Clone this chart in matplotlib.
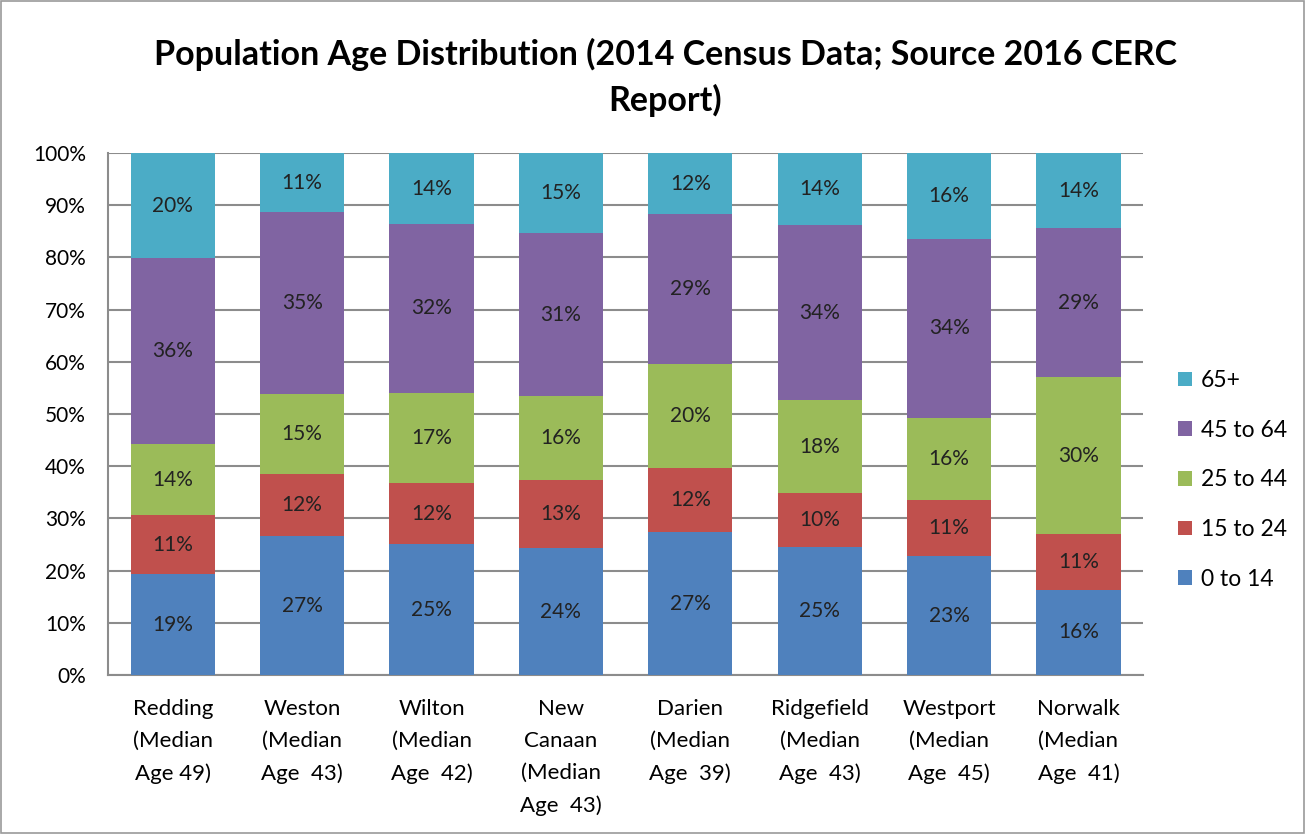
import numpy as np
import matplotlib.pyplot as plt
from matplotlib.patches import Rectangle

plt.rcParams['font.family'] = ['Lato', 'DejaVu Sans']

towns = ['Redding\n(Median\nAge 49)', 'Weston\n(Median\nAge  43)', 'Wilton\n(Median\nAge  42)',
         'New\nCanaan\n(Median\nAge  43)', 'Darien\n(Median\nAge  39)', 'Ridgefield\n(Median\nAge  43)',
         'Westport\n(Median\nAge  45)', 'Norwalk\n(Median\nAge  41)']

age_groups = ['0 to 14', '15 to 24', '25 to 44', '45 to 64', '65+']
age_0_14 = [19.3, 26.6, 25.1, 24.3, 27.4, 24.6, 22.8, 16.3]
age_15_24 = [11.3, 11.9, 11.6, 13.1, 12.3, 10.2, 10.7, 10.7]
age_25_44 = [13.7, 15.3, 17.4, 16.0, 19.9, 17.8, 15.7, 30.0]
age_45_64 = [35.6, 34.9, 32.3, 31.3, 28.7, 33.6, 34.4, 28.6]
age_65_up = [20.1, 11.3, 13.6, 15.3, 11.7, 13.8, 16.4, 14.4]

colors = ['#4F81BD', '#C0504D', '#9BBB59', '#8064A2', '#4BACC6']

fig = plt.figure(figsize=(13.05, 8.34), dpi=100)
ax = fig.add_axes([0.0828, 0.1906, 0.7932, 0.6259])

# thin frame around the whole chart
fig.patches.append(Rectangle((0.001, 0.001), 0.998, 0.998, transform=fig.transFigure,
                             fill=False, edgecolor='#9a9a9a', linewidth=1.2))

x = np.arange(len(towns))
bottom = np.zeros(len(towns))
series = [age_0_14, age_15_24, age_25_44, age_45_64, age_65_up]
bars = []
for vals, name, c in zip(series, age_groups, colors):
    vals = np.array(vals)
    b = ax.bar(x, vals, 0.65, bottom=bottom, color=c, label=name, zorder=3)
    bars.append(b)
    for xi, v, bt in zip(x, vals, bottom):
        ax.text(xi, bt + v / 2, f'{round(v):d}%', ha='center', va='center',
                fontsize=15, color='#222222', zorder=4)
    bottom += vals

ax.set_xlim(-0.5, len(towns) - 0.5)
ax.set_ylim(0, 100)
ax.set_yticks(np.arange(0, 101, 10))
ax.set_yticklabels([f'{t}%' for t in range(0, 101, 10)], fontsize=15)
ax.set_xticks(x)
ax.set_xticklabels(towns, fontsize=16, linespacing=1.75, va='top')
ax.tick_params(axis='x', length=0, pad=17)
ax.tick_params(axis='y', length=0, pad=16)

ax.grid(axis='y', color='#8c8c8c', linewidth=1.5, zorder=0)
for s in ['top', 'right']:
    ax.spines[s].set_visible(False)
ax.spines['left'].set_color('#8c8c8c')
ax.spines['left'].set_linewidth(1.5)
ax.spines['bottom'].set_color('#8c8c8c')
ax.spines['bottom'].set_linewidth(1.5)

handles = bars[::-1]
labels = age_groups[::-1]
ax.legend(handles, labels, loc='center left', bbox_to_anchor=(1.025, 0.374), frameon=False,
          fontsize=16.5, handlelength=0.6, handleheight=0.6, handletextpad=0.4,
          labelspacing=1.25, borderaxespad=0)

fig.text(0.51, 0.907, 'Population Age Distribution (2014 Census Data; Source 2016 CERC\nReport)',
         ha='center', va='center', fontsize=24.5, fontweight='bold', linespacing=1.5)

fig.savefig('out.png', dpi=100)
